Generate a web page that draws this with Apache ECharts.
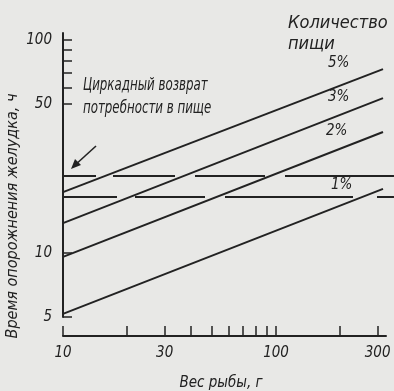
<!DOCTYPE html>
<html>
<head>
<meta charset="utf-8">
<script src="https://cdn.jsdelivr.net/npm/echarts@6/dist/echarts.min.js"></script>
<style>
  html, body { margin: 0; padding: 0; background: #e8e8e6; }
  #main { width: 394px; height: 391px; }
</style>
</head>
<body>
<div id="main"></div>
<script>
// вес рыбы (г) — концы прямых
const weights = [10, 318];
// время опорожнения желудка (ч) для разных рационов
const food5 = [19.3, 73.1];
const food3 = [13.8, 53.4];
const food2 = [9.58, 37.0];
const food1 = [5.17, 20.0];
const foodNames = ['5%', '3%', '2%', '1%'];
// циркадный возврат потребности в пище
const circadianRange = [10, 358];
const circadianHigh = 23.0;
const circadianLow = 18.3;
// деления и подписи осей
const xTicks = [10, 20, 30, 40, 50, 60, 70, 80, 90, 100, 200, 300];
const xLabels = [10, 30, 100, 300];
const yTicks = [5, 10, 50, 60, 70, 80, 90, 100];
const yLabels = [5, 10, 50, 100];

const FONT = "'Liberation Sans Narrow', 'DejaVu Sans Condensed', 'DejaVu Sans', sans-serif";
const INK = '#222';

const chart = echarts.init(document.getElementById('main'));

const pair = (xs, ys) => xs.map((x, i) => [x, ys[i]]);

const solid = (name, ys) => ({
    name: name,
    type: 'line',
    data: pair(weights, ys),
    symbol: 'none',
    lineStyle: { color: INK, width: 2 },
    silent: true,
});

const dashed = (v, pattern) => ({
    type: 'line',
    data: pair(circadianRange, [v, v]),
    symbol: 'none',
    lineStyle: { color: INK, width: 2, type: pattern },
    silent: true,
});

const txt = (x, y, text, size, sx, extra) => ({
    type: 'text',
    x: x, y: y,
    scaleX: sx || 1,
    style: Object.assign({
        text: text,
        fill: INK,
        font: 'italic ' + size + 'px ' + FONT,
    }, extra || {}),
});

const labelStyle = { color: INK, fontSize: 15, fontStyle: 'italic', fontFamily: FONT };

const option = {
    backgroundColor: '#e8e8e6',
    animation: false,
    grid: [
        // область графика (до правого края)
        { left: 63, right: 0, top: 33, bottom: 74 },
        // ось веса (короче)
        { left: 63, right: 8, top: 33, bottom: 74 },
    ],
    xAxis: [
        {
            type: 'log', gridIndex: 0, min: 10, max: 358.1,
            axisLine: { show: false }, axisTick: { show: false },
            axisLabel: { show: false }, splitLine: { show: false },
        },
        {
            type: 'log', gridIndex: 1, min: 10, max: 328.4,
            offset: 19,
            axisLine: { show: true, lineStyle: { color: INK, width: 2 } },
            axisTick: { show: true, inside: true, length: 10, customValues: xTicks, lineStyle: { color: INK, width: 1.5 } },
            axisLabel: Object.assign({ customValues: xLabels, margin: 10 }, labelStyle),
            splitLine: { show: false },
        },
    ],
    yAxis: [
        {
            type: 'log', gridIndex: 0, min: 5, max: 108,
            axisLine: { show: true, lineStyle: { color: INK, width: 2 } },
            axisTick: { show: true, inside: true, length: 9, customValues: yTicks, lineStyle: { color: INK, width: 1.5 } },
            axisLabel: Object.assign({ customValues: yLabels, margin: 11 }, labelStyle),
            splitLine: { show: false },
        },
        {
            type: 'log', gridIndex: 1, min: 5, max: 108, show: false,
        },
    ],
    series: [
        solid(foodNames[0], food5),
        solid(foodNames[1], food3),
        solid(foodNames[2], food2),
        solid(foodNames[3], food1),
        dashed(circadianHigh, [33, 17, 62, 20, 70, 20, 120, 10]),
        dashed(circadianLow, [54, 18, 70, 20, 128, 24, 60, 10]),
    ],
    graphic: [
        txt(288, 14, 'Количество', 18, 1.0),
        txt(288, 35, 'пищи', 18, 1.0),
        txt(328, 56, foodNames[0], 15),
        txt(328, 90, foodNames[1], 15),
        txt(326, 124, foodNames[2], 15),
        txt(331, 178, foodNames[3], 15),
        txt(83, 76, 'Циркадный возврат', 18, 0.73),
        txt(83, 99, 'потребности в пище', 18, 0.73),
        txt(221, 383, 'Вес рыбы, г', 15, 1, { align: 'center', verticalAlign: 'middle' }),
        {
            type: 'text',
            x: 13, y: 216,
            rotation: Math.PI / 2,
            style: {
                text: 'Время опорожнения желудка, ч',
                fill: INK,
                font: 'italic 16px ' + FONT,
                align: 'center',
                verticalAlign: 'middle',
            },
        },
        {
            type: 'line',
            shape: { x1: 96, y1: 146, x2: 74, y2: 166 },
            style: { stroke: INK, lineWidth: 1.6 },
        },
        {
            type: 'polygon',
            shape: { points: [[71, 169], [75, 159], [81, 165]] },
            style: { fill: INK },
        },
    ],
};

chart.setOption(option);
</script>
</body>
</html>
